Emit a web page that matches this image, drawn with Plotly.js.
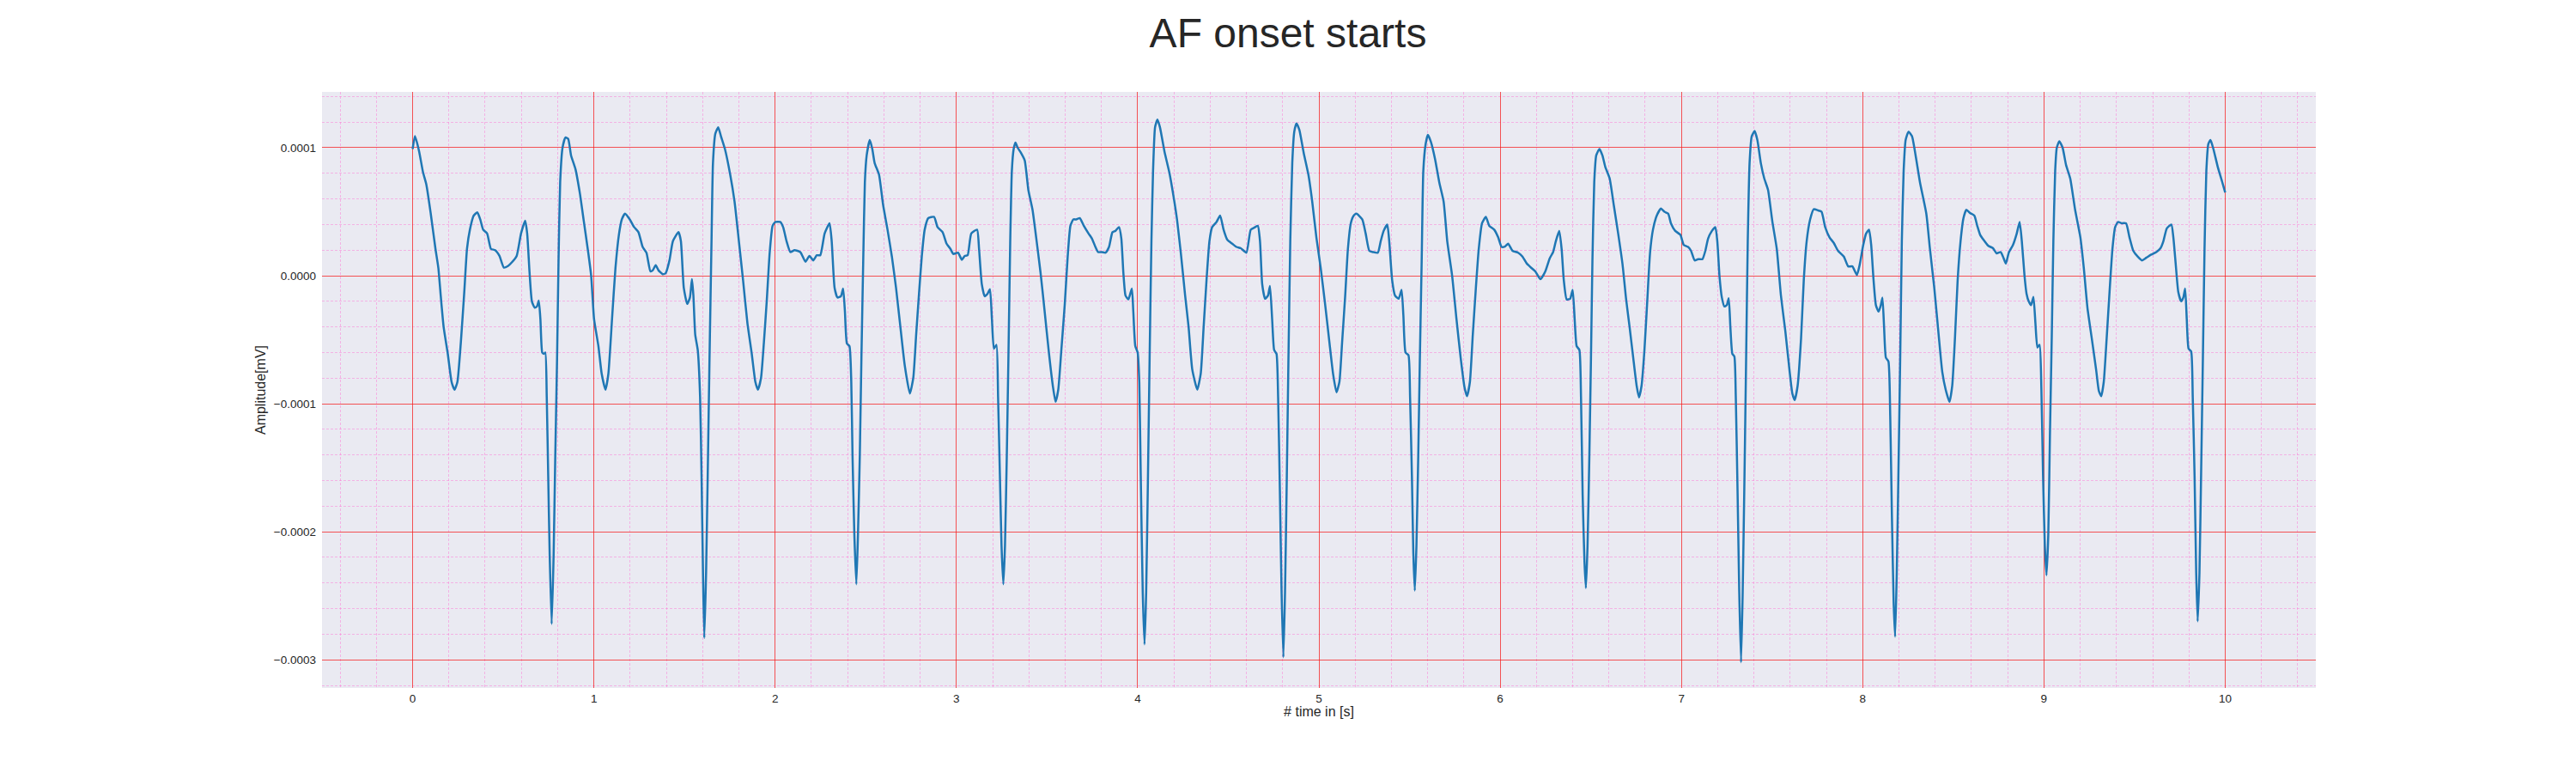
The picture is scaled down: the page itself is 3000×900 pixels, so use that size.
<!DOCTYPE html>
<html>
<head>
<meta charset="utf-8">
<title>AF onset starts</title>
<script src="https://cdn.plot.ly/plotly-3.0.1.min.js"></script>
<style>
  html, body { margin: 0; padding: 0; background: #ffffff; }
  #ecgChart { width: 3000px; height: 900px; }
</style>
</head>
<body>
<div id="ecgChart"></div>
<script>
// ==========================================================
// ECG TRACE  [time in s, amplitude in mV]
// ==========================================================

const trace0to2 = [
  [0.000, 9.9e-5], [0.013, 10.9e-5], [0.036, 9.7e-5], [0.057, 8.1e-5], [0.076, 7.1e-5],
  [0.100, 4.85e-5], [0.126, 2.1e-5], [0.142, 0.6e-5], [0.155, -1.55e-5], [0.171, -4.0e-5],
  [0.194, -6.1e-5], [0.215, -8.3e-5], [0.231, -8.9e-5], [0.247, -8.3e-5], [0.266, -5.2e-5],
  [0.285, -1.25e-5], [0.300, 2.1e-5], [0.316, 3.6e-5], [0.337, 4.7e-5], [0.357, 4.95e-5],
  [0.373, 4.4e-5], [0.389, 3.6e-5], [0.411, 3.3e-5], [0.432, 2.1e-5], [0.455, 2.0e-5],
  [0.479, 1.55e-5], [0.503, 0.64e-5], [0.526, 0.76e-5], [0.547, 1.04e-5], [0.574, 1.55e-5],
  [0.598, 3.3e-5], [0.621, 4.3e-5], [0.632, 3.3e-5], [0.645, 0.27e-5], [0.658, -2.0e-5],
  [0.674, -2.5e-5], [0.686, -2.4e-5], [0.696, -1.95e-5], [0.705, -3.4e-5], [0.715, -6.0e-5],
  [0.724, -6.1e-5], [0.732, -6.0e-5], [0.740, -9.5e-5], [0.748, -15.6e-5], [0.756, -21.7e-5],
  [0.767, -27.2e-5], [0.778, -21.7e-5], [0.787, -14.1e-5], [0.797, -6.4e-5], [0.805, 1.2e-5],
  [0.814, 7.3e-5], [0.827, 10.0e-5], [0.843, 10.8e-5], [0.858, 10.7e-5], [0.874, 9.4e-5],
  [0.898, 8.35e-5], [0.922, 6.5e-5], [0.945, 4.2e-5], [0.969, 1.8e-5], [0.985, 0.0],
  [1.001, -3.4e-5], [1.025, -5.5e-5], [1.043, -7.65e-5], [1.064, -8.9e-5], [1.080, -7.65e-5],
  [1.100, -3.4e-5], [1.119, 0.6e-5], [1.138, 3.2e-5], [1.154, 4.4e-5], [1.172, 4.85e-5],
  [1.198, 4.4e-5], [1.222, 3.8e-5], [1.246, 3.4e-5], [1.269, 2.25e-5], [1.290, 1.8e-5],
  [1.312, 0.34e-5], [1.325, 0.43e-5], [1.341, 0.82e-5], [1.356, 0.43e-5], [1.380, 0.12e-5],
  [1.396, 0.2e-5], [1.417, 1.2e-5], [1.436, 2.7e-5], [1.467, 3.4e-5], [1.480, 2.7e-5],
  [1.496, -0.95e-5], [1.515, -2.2e-5], [1.530, -1.7e-5], [1.541, -0.27e-5], [1.549, -1.55e-5],
  [1.559, -4.6e-5], [1.573, -5.8e-5], [1.586, -9.5e-5], [1.594, -15.6e-5], [1.602, -23.2e-5],
  [1.609, -28.3e-5], [1.619, -23.2e-5], [1.628, -15.6e-5], [1.638, -6.4e-5], [1.649, 2.7e-5],
  [1.657, 8.8e-5], [1.670, 11.1e-5], [1.686, 11.6e-5], [1.701, 10.9e-5], [1.723, 9.9e-5],
  [1.752, 7.9e-5], [1.776, 5.8e-5], [1.800, 2.7e-5], [1.823, -0.34e-5], [1.847, -3.7e-5],
  [1.871, -6.1e-5], [1.891, -8.3e-5], [1.905, -8.9e-5], [1.922, -8.0e-5], [1.938, -5.2e-5],
  [1.954, -1.9e-5], [1.970, 1.8e-5], [1.986, 3.9e-5]
];

const trace2to4 = [
  [2.002, 4.2e-5], [2.028, 4.2e-5], [2.044, 3.8e-5], [2.063, 2.7e-5], [2.084, 1.85e-5],
  [2.107, 2.0e-5], [2.139, 1.85e-5], [2.167, 1.1e-5], [2.189, 1.55e-5], [2.210, 1.2e-5],
  [2.230, 1.6e-5], [2.249, 1.6e-5], [2.273, 3.3e-5], [2.300, 4.1e-5], [2.312, 2.7e-5],
  [2.328, -0.95e-5], [2.344, -1.7e-5], [2.363, -1.6e-5], [2.375, -1.0e-5], [2.385, -2.8e-5],
  [2.396, -5.3e-5], [2.410, -5.5e-5], [2.420, -8.3e-5], [2.427, -14.1e-5], [2.437, -20.2e-5],
  [2.448, -24.1e-5], [2.457, -20.2e-5], [2.467, -14.1e-5], [2.476, -6.4e-5], [2.486, 1.2e-5],
  [2.495, 7.3e-5], [2.505, 9.4e-5], [2.522, 10.6e-5], [2.536, 9.9e-5], [2.549, 8.8e-5],
  [2.573, 7.9e-5], [2.596, 5.5e-5], [2.620, 3.6e-5], [2.644, 1.5e-5], [2.667, -0.95e-5],
  [2.691, -4.0e-5], [2.715, -7.0e-5], [2.743, -9.2e-5], [2.762, -8.0e-5], [2.778, -4.6e-5],
  [2.793, -1.55e-5], [2.809, 1.5e-5], [2.825, 3.6e-5], [2.845, 4.5e-5], [2.877, 4.6e-5],
  [2.896, 3.8e-5], [2.924, 3.4e-5], [2.946, 2.5e-5], [2.967, 2.1e-5], [2.983, 1.7e-5],
  [3.009, 1.8e-5], [3.030, 1.25e-5], [3.046, 1.55e-5], [3.062, 1.6e-5], [3.082, 3.3e-5],
  [3.114, 3.6e-5], [3.125, 2.1e-5], [3.140, -0.64e-5], [3.156, -1.6e-5], [3.172, -1.4e-5],
  [3.185, -1.05e-5], [3.196, -3.4e-5], [3.207, -5.7e-5], [3.221, -5.4e-5], [3.230, -9.5e-5],
  [3.240, -15.6e-5], [3.249, -21.1e-5], [3.259, -24.1e-5], [3.268, -21.1e-5], [3.278, -14.1e-5],
  [3.287, -6.4e-5], [3.297, 2.7e-5], [3.306, 8.2e-5], [3.316, 9.9e-5], [3.326, 10.4e-5],
  [3.338, 10.0e-5], [3.356, 9.6e-5], [3.377, 9.0e-5], [3.397, 6.7e-5], [3.420, 5.15e-5],
  [3.440, 3.0e-5], [3.464, 0.27e-5], [3.487, -2.8e-5], [3.511, -6.1e-5], [3.532, -8.6e-5],
  [3.547, -9.85e-5], [3.562, -8.9e-5], [3.579, -5.8e-5], [3.598, -2.2e-5], [3.614, 1.5e-5],
  [3.629, 3.9e-5], [3.645, 4.4e-5], [3.661, 4.4e-5], [3.681, 4.5e-5], [3.703, 3.9e-5],
  [3.729, 3.3e-5], [3.748, 2.9e-5], [3.767, 2.25e-5], [3.782, 1.85e-5], [3.803, 1.85e-5],
  [3.823, 1.8e-5], [3.842, 2.25e-5], [3.861, 3.4e-5], [3.877, 3.5e-5], [3.897, 3.8e-5],
  [3.910, 2.9e-5], [3.921, 0.27e-5], [3.933, -1.55e-5], [3.949, -1.85e-5], [3.968, -1.0e-5],
  [3.976, -2.8e-5], [3.987, -5.5e-5]
];

const trace4to6 = [
  [4.000, -6.0e-5], [4.009, -8.3e-5], [4.017, -15.6e-5], [4.028, -24.7e-5], [4.038, -28.8e-5],
  [4.047, -24.7e-5], [4.057, -15.6e-5], [4.066, -6.4e-5], [4.076, 2.7e-5], [4.085, 8.2e-5],
  [4.096, 11.6e-5], [4.109, 12.2e-5], [4.123, 11.6e-5], [4.148, 9.7e-5], [4.175, 8.05e-5],
  [4.199, 6.1e-5], [4.217, 4.4e-5], [4.238, 1.8e-5], [4.262, -1.55e-5], [4.281, -4.0e-5],
  [4.301, -7.3e-5], [4.329, -8.9e-5], [4.348, -7.65e-5], [4.364, -4.0e-5], [4.380, -0.34e-5],
  [4.396, 2.7e-5], [4.411, 3.8e-5], [4.435, 4.2e-5], [4.455, 4.7e-5], [4.474, 3.6e-5],
  [4.495, 2.8e-5], [4.522, 2.5e-5], [4.545, 2.25e-5], [4.569, 2.15e-5], [4.600, 1.8e-5],
  [4.624, 3.6e-5], [4.648, 3.8e-5], [4.663, 3.9e-5], [4.675, 2.7e-5], [4.687, -0.64e-5],
  [4.703, -1.8e-5], [4.719, -1.55e-5], [4.730, -0.8e-5], [4.742, -3.4e-5], [4.753, -5.8e-5],
  [4.766, -6.1e-5], [4.775, -9.5e-5], [4.785, -17.1e-5], [4.794, -24.7e-5], [4.804, -29.8e-5],
  [4.813, -24.7e-5], [4.823, -15.6e-5], [4.832, -6.4e-5], [4.842, 2.7e-5], [4.853, 8.8e-5],
  [4.864, 11.25e-5], [4.876, 11.9e-5], [4.892, 11.4e-5], [4.916, 9.6e-5], [4.942, 7.9e-5],
  [4.963, 5.8e-5], [4.986, 3.0e-5], [5.010, 0.6e-5], [5.034, -2.2e-5], [5.058, -5.2e-5],
  [5.078, -7.65e-5], [5.097, -9.1e-5], [5.113, -8.3e-5], [5.128, -5.2e-5], [5.145, -1.55e-5],
  [5.160, 2.1e-5], [5.176, 4.1e-5], [5.192, 4.7e-5], [5.207, 4.85e-5], [5.239, 4.4e-5],
  [5.258, 3.3e-5], [5.278, 1.95e-5], [5.299, 1.85e-5], [5.325, 1.8e-5], [5.341, 2.7e-5],
  [5.357, 3.5e-5], [5.377, 4.0e-5], [5.388, 2.7e-5], [5.404, -0.34e-5], [5.420, -1.55e-5],
  [5.440, -1.8e-5], [5.456, -1.1e-5], [5.466, -3.1e-5], [5.478, -6.0e-5], [5.494, -6.2e-5],
  [5.503, -9.5e-5], [5.513, -15.6e-5], [5.521, -21.7e-5], [5.529, -24.6e-5], [5.538, -21.1e-5],
  [5.548, -14.1e-5], [5.557, -6.4e-5], [5.567, 1.2e-5], [5.576, 8.2e-5], [5.589, 10.3e-5],
  [5.601, 11.0e-5], [5.617, 10.5e-5], [5.641, 9.1e-5], [5.664, 7.3e-5], [5.688, 5.8e-5],
  [5.708, 2.7e-5], [5.735, 0.0], [5.759, -3.4e-5], [5.782, -6.4e-5], [5.803, -8.7e-5],
  [5.817, -9.4e-5], [5.833, -8.3e-5], [5.849, -4.6e-5], [5.866, -0.95e-5], [5.882, 2.1e-5],
  [5.900, 4.1e-5], [5.921, 4.6e-5], [5.940, 3.9e-5], [5.967, 3.6e-5], [5.989, 3.0e-5]
];

const trace6to8 = [
  [6.008, 2.25e-5], [6.028, 2.3e-5], [6.044, 2.5e-5], [6.068, 1.95e-5], [6.099, 1.8e-5],
  [6.123, 1.5e-5], [6.147, 0.95e-5], [6.170, 0.64e-5], [6.194, 0.34e-5], [6.222, -0.27e-5],
  [6.249, 0.34e-5], [6.273, 1.35e-5], [6.292, 1.85e-5], [6.307, 2.7e-5], [6.326, 3.5e-5],
  [6.339, 2.1e-5], [6.351, -0.34e-5], [6.367, -1.85e-5], [6.386, -1.8e-5], [6.400, -1.1e-5],
  [6.411, -3.4e-5], [6.422, -5.5e-5], [6.437, -5.8e-5], [6.446, -9.5e-5], [6.455, -17.1e-5],
  [6.465, -22.3e-5], [6.473, -24.4e-5], [6.482, -21.1e-5], [6.492, -14.1e-5], [6.501, -6.4e-5],
  [6.509, 1.2e-5], [6.519, 7.3e-5], [6.530, 9.4e-5], [6.548, 9.9e-5], [6.564, 9.4e-5],
  [6.580, 8.5e-5], [6.604, 7.6e-5], [6.627, 5.5e-5], [6.651, 3.3e-5], [6.675, 0.9e-5],
  [6.695, -1.85e-5], [6.714, -4.0e-5], [6.734, -6.4e-5], [6.753, -8.6e-5], [6.766, -9.5e-5],
  [6.780, -8.6e-5], [6.796, -5.8e-5], [6.812, -1.85e-5], [6.827, 1.8e-5], [6.843, 3.6e-5],
  [6.864, 4.7e-5], [6.887, 5.25e-5], [6.906, 5.0e-5], [6.927, 4.85e-5], [6.942, 4.1e-5],
  [6.966, 3.5e-5], [6.994, 3.2e-5], [7.013, 2.4e-5], [7.037, 2.25e-5], [7.053, 1.95e-5],
  [7.073, 1.2e-5], [7.092, 1.3e-5], [7.116, 1.3e-5], [7.132, 1.95e-5], [7.147, 2.9e-5],
  [7.168, 3.5e-5], [7.187, 3.8e-5], [7.198, 2.7e-5], [7.210, -0.03e-5], [7.223, -1.7e-5],
  [7.237, -2.4e-5], [7.250, -2.3e-5], [7.261, -1.75e-5], [7.270, -4.0e-5], [7.281, -6.1e-5],
  [7.292, -6.3e-5], [7.300, -9.5e-5], [7.310, -17.1e-5], [7.319, -24.7e-5], [7.329, -30.2e-5],
  [7.338, -24.7e-5], [7.348, -15.6e-5], [7.357, -6.4e-5], [7.366, 2.7e-5], [7.376, 8.8e-5],
  [7.388, 10.9e-5], [7.404, 11.3e-5], [7.419, 10.6e-5], [7.438, 8.8e-5], [7.457, 7.6e-5],
  [7.478, 6.7e-5], [7.502, 4.2e-5], [7.526, 2.1e-5], [7.549, -1.55e-5], [7.573, -4.3e-5],
  [7.596, -7.35e-5], [7.612, -9.2e-5], [7.625, -9.7e-5], [7.641, -8.6e-5], [7.660, -4.9e-5],
  [7.675, -0.34e-5], [7.691, 2.7e-5], [7.710, 4.4e-5], [7.730, 5.2e-5], [7.754, 5.1e-5],
  [7.773, 5.0e-5], [7.793, 3.8e-5], [7.817, 3.0e-5], [7.841, 2.55e-5], [7.864, 1.95e-5],
  [7.896, 1.5e-5], [7.920, 0.73e-5], [7.943, 0.73e-5], [7.968, 0.06e-5], [7.984, 0.9e-5]
];

const trace8to10 = [
  [8.003, 2.4e-5], [8.019, 3.3e-5], [8.035, 3.6e-5], [8.047, 2.4e-5], [8.060, -0.34e-5],
  [8.073, -2.3e-5], [8.088, -2.8e-5], [8.100, -2.3e-5], [8.109, -1.7e-5], [8.118, -4.0e-5],
  [8.128, -6.4e-5], [8.142, -6.7e-5], [8.152, -11.0e-5], [8.161, -18.6e-5], [8.171, -25.6e-5],
  [8.179, -28.2e-5], [8.188, -23.2e-5], [8.197, -15.6e-5], [8.207, -6.4e-5], [8.216, 2.7e-5],
  [8.226, 8.2e-5], [8.237, 10.6e-5], [8.253, 11.25e-5], [8.272, 10.9e-5], [8.292, 9.4e-5],
  [8.316, 7.3e-5], [8.351, 4.85e-5], [8.371, 2.1e-5], [8.395, -0.95e-5], [8.419, -4.6e-5],
  [8.439, -7.5e-5], [8.458, -8.9e-5], [8.479, -9.85e-5], [8.494, -8.6e-5], [8.509, -4.9e-5],
  [8.524, -0.34e-5], [8.540, 2.7e-5], [8.556, 4.5e-5], [8.572, 5.15e-5], [8.592, 4.9e-5],
  [8.616, 4.7e-5], [8.632, 3.9e-5], [8.648, 3.2e-5], [8.667, 2.8e-5], [8.692, 2.35e-5],
  [8.719, 2.15e-5], [8.739, 1.75e-5], [8.761, 1.85e-5], [8.774, 1.5e-5], [8.790, 0.95e-5],
  [8.806, 1.8e-5], [8.829, 2.4e-5], [8.850, 3.3e-5], [8.866, 4.2e-5], [8.878, 2.7e-5],
  [8.893, -0.03e-5], [8.904, -1.4e-5], [8.916, -2.0e-5], [8.929, -2.3e-5], [8.942, -1.65e-5],
  [8.953, -3.7e-5], [8.964, -5.6e-5], [8.976, -5.4e-5], [8.986, -8.9e-5], [8.995, -15.6e-5],
  [9.005, -21.1e-5], [9.014, -23.4e-5], [9.024, -20.2e-5], [9.033, -12.5e-5], [9.043, -4.9e-5],
  [9.052, 2.7e-5], [9.062, 8.2e-5], [9.071, 10.0e-5], [9.085, 10.5e-5], [9.103, 10.0e-5],
  [9.122, 8.65e-5], [9.145, 7.6e-5], [9.172, 5.15e-5], [9.201, 3.0e-5], [9.220, 0.6e-5],
  [9.240, -2.5e-5], [9.264, -4.9e-5], [9.288, -7.35e-5], [9.303, -9.0e-5], [9.316, -9.4e-5],
  [9.330, -8.3e-5], [9.346, -4.9e-5], [9.362, -1.25e-5], [9.378, 2.1e-5], [9.393, 3.8e-5],
  [9.409, 4.2e-5], [9.430, 4.1e-5], [9.453, 4.1e-5], [9.472, 3.0e-5], [9.493, 1.95e-5],
  [9.517, 1.5e-5], [9.541, 1.2e-5], [9.564, 1.4e-5], [9.592, 1.65e-5], [9.620, 1.85e-5],
  [9.643, 2.15e-5], [9.659, 2.7e-5], [9.678, 3.7e-5], [9.703, 4.0e-5], [9.714, 3.0e-5],
  [9.727, 0.9e-5], [9.741, -1.25e-5], [9.757, -2.0e-5], [9.769, -1.7e-5], [9.779, -1.0e-5],
  [9.788, -3.4e-5], [9.798, -5.7e-5], [9.812, -5.9e-5], [9.821, -9.5e-5], [9.831, -15.6e-5],
  [9.840, -23.2e-5], [9.848, -27.0e-5], [9.858, -23.2e-5], [9.867, -15.6e-5], [9.877, -6.4e-5],
  [9.886, 2.1e-5], [9.896, 8.2e-5], [9.907, 10.3e-5], [9.919, 10.6e-5], [9.935, 9.9e-5],
  [9.959, 8.5e-5], [9.982, 7.4e-5], [10.000, 6.5e-5]
];

const chartTitle = "AF onset starts";
const xLabel = "# time in [s]";
const yLabel = "Amplitude[mV]";


// ==========================================================
// BUILD + DRAW
// ==========================================================

let ecgPoints = [].concat(trace0to2, trace2to4, trace4to6, trace6to8, trace8to10);

let majorGrid = "rgba(245,30,30,0.75)";
let minorGrid = "rgba(255,110,210,0.45)";

Plotly.newPlot(
  "ecgChart",
  [
    {
      x: ecgPoints.map(p => p[0]),
      y: ecgPoints.map(p => p[1]),
      type: "scatter",
      mode: "lines",
      line: { color: "#1f77b4", width: 2.5, shape: "spline", smoothing: 0.5 },
      hoverinfo: "skip"
    }
  ],
  {
    width: 3000,
    height: 900,
    paper_bgcolor: "#ffffff",
    plot_bgcolor: "#EAEAF2",
    margin: { l: 375, r: 303, t: 107, b: 99 },
    showlegend: false,
    font: { family: "Liberation Sans, Arial, sans-serif", size: 13.5, color: "#262626" },
    title: {
      text: chartTitle,
      font: { size: 48, color: "#262626" },
      x: 0.5, xref: "container", xanchor: "center",
      y: 1 - 38 / 900, yref: "container", yanchor: "middle"
    },
    xaxis: {
      range: [-0.5, 10.5],
      tick0: 0, dtick: 1,
      ticks: "", showline: false, zeroline: false,
      showgrid: true, gridcolor: majorGrid, gridwidth: 1,
      minor: { tick0: 0, dtick: 0.2, showgrid: true, gridcolor: minorGrid, gridwidth: 1, griddash: "3px,2px" },
      ticklabelstandoff: 2,
      automargin: false,
      title: { text: xLabel, standoff: 3 }
    },
    yaxis: {
      range: [-0.000322, 0.0001436],
      tick0: 0, dtick: 0.0001, tickformat: ".4f",
      ticks: "", showline: false, zeroline: false,
      showgrid: true, gridcolor: majorGrid, gridwidth: 1,
      minor: { tick0: 0, dtick: 0.00002, showgrid: true, gridcolor: minorGrid, gridwidth: 1, griddash: "3px,2px" },
      ticklabelstandoff: 6,
      automargin: false,
      title: { text: yLabel, standoff: 5 }
    }
  },
  { staticPlot: true, displayModeBar: false }
);
</script>
</body>
</html>
